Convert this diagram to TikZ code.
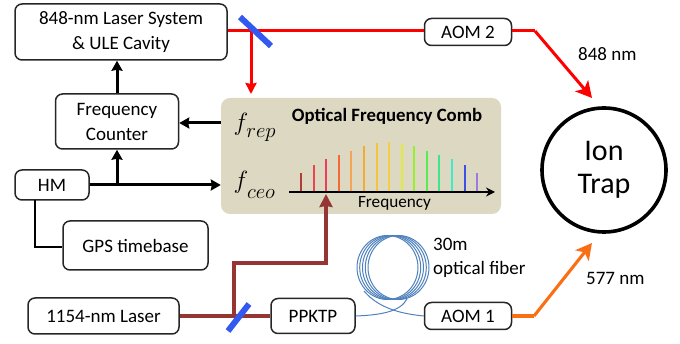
\documentclass[tikz,border=0pt]{standalone}
\usepackage{fontspec}
\setmainfont{Carlito}
\usetikzlibrary{arrows.meta,calc}
\definecolor{combbg}{RGB}{221,216,193}
\definecolor{brownred}{RGB}{150,54,52}
\definecolor{fibre}{RGB}{79,129,189}
\definecolor{mirror}{RGB}{50,90,240}
\definecolor{orng}{RGB}{250,110,20}
\tikzset{
 x=1pt,y=-1pt,
 box/.style={draw=black!85,line width=1.5pt,rounded corners=7pt,fill=white,inner sep=0pt,align=center,font=\fontsize{19}{25}\selectfont},
 lbl/.style={inner sep=0pt,align=left,font=\fontsize{19}{24}\selectfont},
 blk/.style={line width=3pt,draw=black,-{Stealth[length=10pt,width=11pt,inset=1pt]}},
 blkl/.style={line width=2.6pt,draw=black},
 redb/.style={line width=3pt,draw=red},
 brn/.style={line width=3.1pt,draw=brownred},
 orb/.style={line width=3.1pt,draw=orng},
 mir/.style={line width=6pt,draw=mirror},
 fib/.style={line width=1pt,draw=fibre},
 tooth/.style={line width=1.7pt},
 fsym/.style={inner sep=0pt,font=\fontsize{36}{36}\selectfont},
 fsub/.style={inner sep=0pt,font=\fontsize{20}{20}\selectfont}
}
\begin{document}
\begin{tikzpicture}
\useasboundingbox (0,0) rectangle (680,344);
\coordinate (m1) at (251,31);
\coordinate (m2) at (234,316);
% comb
\node[fill=combbg,rounded corners=9pt,minimum width=280pt,minimum height=116pt,inner sep=0pt] (comb) at (361,156) {};
% boxes
\node[box,minimum width=212pt,minimum height=56pt] (laser) at (121,32) {848-nm Laser System\\\& ULE Cavity};
\node[box,minimum width=123pt,minimum height=55pt] (counter) at (117,121.5) {Frequency\\Counter};
\node[box,minimum width=74pt,minimum height=30pt] (hm) at (52,185) {HM};
\node[box,minimum width=145pt,minimum height=49pt] (gps) at (135.5,245.5) {GPS timebase};
\node[box,minimum width=151pt,minimum height=36pt] (l1154) at (103.5,316) {1154-nm Laser};
\node[box,minimum width=84pt,minimum height=35pt] (ppktp) at (313,316) {PPKTP};
\node[box,minimum width=87pt,minimum height=27pt] (aom1) at (468,316) {AOM 1};
\node[box,minimum width=87pt,minimum height=27pt] (aom2) at (468,32) {AOM 2};
\node[draw=black,line width=3.6pt,circle,minimum size=124pt,inner sep=0pt,align=center,font=\fontsize{30}{33}\selectfont] (trap) at (604,170) {Ion\\Trap};
% fibre
\foreach \cx in {387.5,390.2,393,395.8,398.5}{
 \draw[fib] (\cx,267.5) ellipse [x radius=30.5,y radius=32];
}
\coordinate (fc) at (407,299);
\coordinate (fd) at (364,291);
\draw[fib] (ppktp.east) .. controls (380,315) and (400,312) .. (fc);
\draw[fib] (aom1.west) .. controls (405,314) and (380,310) .. (fd);
% beams
\coordinate (bend1) at (535,31);
\coordinate (tip1) at (592,98);
\draw[redb] (laser.east |- m1) -- (aom2.west |- m1);
\draw[redb] (aom2.east |- m1) -- (bend1);
\draw[redb,-{Stealth[length=16pt,width=17pt,inset=4pt]}] (bend1) -- (tip1);
\coordinate (red2) at (251,94);
\draw[redb,-{Stealth[length=11pt,width=11pt,inset=1pt]}] (m1) -- (red2);
\draw[mir] (240,17) -- (271,46);
% black links
\draw[blk] (counter.north) -- (counter.north |- laser.south);
\draw[blk] (comb.west |- 0,123) -- (counter.east |- 0,123);
\draw[blk] (hm.east) -- (comb.west |- hm);
\draw[blk] (117,185) -- (counter.south);
\draw[blkl] (35,200) -- (35,247) -- (gps.west |- 0,247);
% 1154
\draw[brn] (l1154.east) -- (ppktp.west);
\coordinate (b1) at (234,263);
\coordinate (b2) at (326,263);
\coordinate (b3) at (326,194);
\draw[brn,-{Stealth[length=13pt,width=13pt,inset=1pt]}] (m2) -- (b1) -- (b2) -- (b3);
\draw[mir] (228,331) -- (249,304);
% orange
\coordinate (bend2) at (534,316);
\coordinate (tip2) at (592,243);
\draw[orb] (aom1.east) -- (bend2);
\draw[orb,-{Stealth[length=16pt,width=17pt,inset=4pt]}] (bend2) -- (tip2);
% comb inside
\node[fsym] (frep) at (241,124) {$f$};
\node[fsub] (frepsub) at (261,135) {$rep$};
\node[fsym] (fceo) at (241,182) {$f$};
\node[fsub] (fceosub) at (261,194) {$ceo$};
\node[inner sep=0pt,font=\fontsize{18.8}{22}\selectfont\bfseries] (title) at (387,116) {Optical Frequency Comb};
\node[inner sep=0pt,font=\fontsize{17.2}{20}\selectfont] (freq) at (394.5,203) {Frequency};
\coordinate (ax1) at (289,192);
\coordinate (ax2) at (495,192);
\draw[line width=1.7pt,-{Stealth[length=9pt,width=9pt]}] (ax1) -- (ax2);
\foreach \x/\h/\c in {301/173/{rgb,255:red,180;green,60;blue,55},314/165/{rgb,255:red,235;green,70;blue,80},326/159/{rgb,255:red,240;green,60;blue,90},339/155/{rgb,255:red,245;green,105;blue,55},351/151/{rgb,255:red,245;green,165;blue,85},364/146/{rgb,255:red,245;green,170;blue,50},377/143/{rgb,255:red,245;green,195;blue,60},389/142/{rgb,255:red,245;green,205;blue,70},402/144/{rgb,255:red,225;green,235;blue,60},414/146/{rgb,255:red,150;green,240;blue,50},427/151/{rgb,255:red,90;green,235;blue,80},439/155/{rgb,255:red,60;green,230;blue,140},452/159/{rgb,255:red,60;green,235;blue,200},465/165/{rgb,255:red,60;green,80;blue,230},477/173/{rgb,255:red,160;green,120;blue,225}}{
 \draw[tooth,color=\c] (\x,191) -- (\x,\h);
}
% labels
\node[lbl,anchor=west] (t848) at (578,54) {848 nm};
\node[lbl,anchor=west] (t577) at (586,278) {577 nm};
\node[lbl,anchor=west] (t30) at (433,258) {30m\\optical fiber};
\end{tikzpicture}
\end{document}
